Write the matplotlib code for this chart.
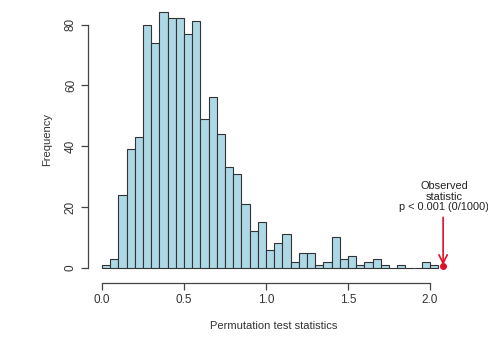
import numpy as np
import matplotlib.pyplot as plt

# histogram counts of the permutation statistics, bins of width 0.05 from 0
bin_width = 0.05
counts = [1, 3, 24, 39, 43, 80, 74, 84, 82, 82,
          77, 81, 49, 56, 44, 33, 31, 21, 12, 15,
          6, 8, 11, 2, 5, 5, 1, 2, 10, 3,
          4, 1, 2, 3, 1, 0, 1, 0, 0, 2,
          1]
observed = 2.08
x_ticks = [0.0, 0.5, 1.0, 1.5, 2.0]
y_ticks = [0, 20, 40, 60, 80]

plt.rcParams['font.family'] = ['Liberation Sans', 'DejaVu Sans']
plt.rcParams['font.size'] = 8

fig = plt.figure(figsize=(4.88, 3.45), dpi=100)
ax = fig.add_axes([88 / 488, 67 / 345, 372 / 488, 276 / 345])

edges = np.arange(len(counts)) * bin_width
ax.bar(edges, counts, width=bin_width, align='edge',
       color='#add8e6', edgecolor='#333333', linewidth=0.8)

# red arrow pointing at the observed statistic
ax.annotate('', xy=(observed, 0), xytext=(observed, 17.5),
            arrowprops=dict(arrowstyle='->', color='#e0102a', lw=1.2,
                            mutation_scale=15))
ax.plot([observed], [0.6], 'o', color='#e0102a', markersize=4)
ax.text(observed + 0.005, 18.3, 'Observed\nstatistic\np < 0.001 (0/1000)',
        ha='center', va='bottom', fontsize=7.9, linespacing=1.05,
        color='#222222', clip_on=False)

ax.set_xlim(-0.0855, 2.183)
ax.set_ylim(-3.36, 87.4)

for side in ['top', 'right']:
    ax.spines[side].set_visible(False)
ax.spines['left'].set_bounds(0, 80)
ax.spines['bottom'].set_bounds(0, 2.0)
ax.spines['bottom'].set_position(('outward', 3.6))
for side in ['left', 'bottom']:
    ax.spines[side].set_color('#444444')
    ax.spines[side].set_linewidth(0.9)

ax.set_xticks(x_ticks)
ax.set_xticklabels(['%.1f' % t for t in x_ticks])
ax.set_yticks(y_ticks)
ax.set_yticklabels([str(t) for t in y_ticks], rotation=90, va='center')
ax.tick_params(direction='out', length=5, width=0.9, color='#444444',
               labelcolor='#333333', labelsize=8.5, pad=3)

ax.set_xlabel('Permutation test statistics', color='#333333', labelpad=11)
ax.set_ylabel('Frequency', color='#333333', labelpad=9)

fig.savefig('out.png', dpi=100)
